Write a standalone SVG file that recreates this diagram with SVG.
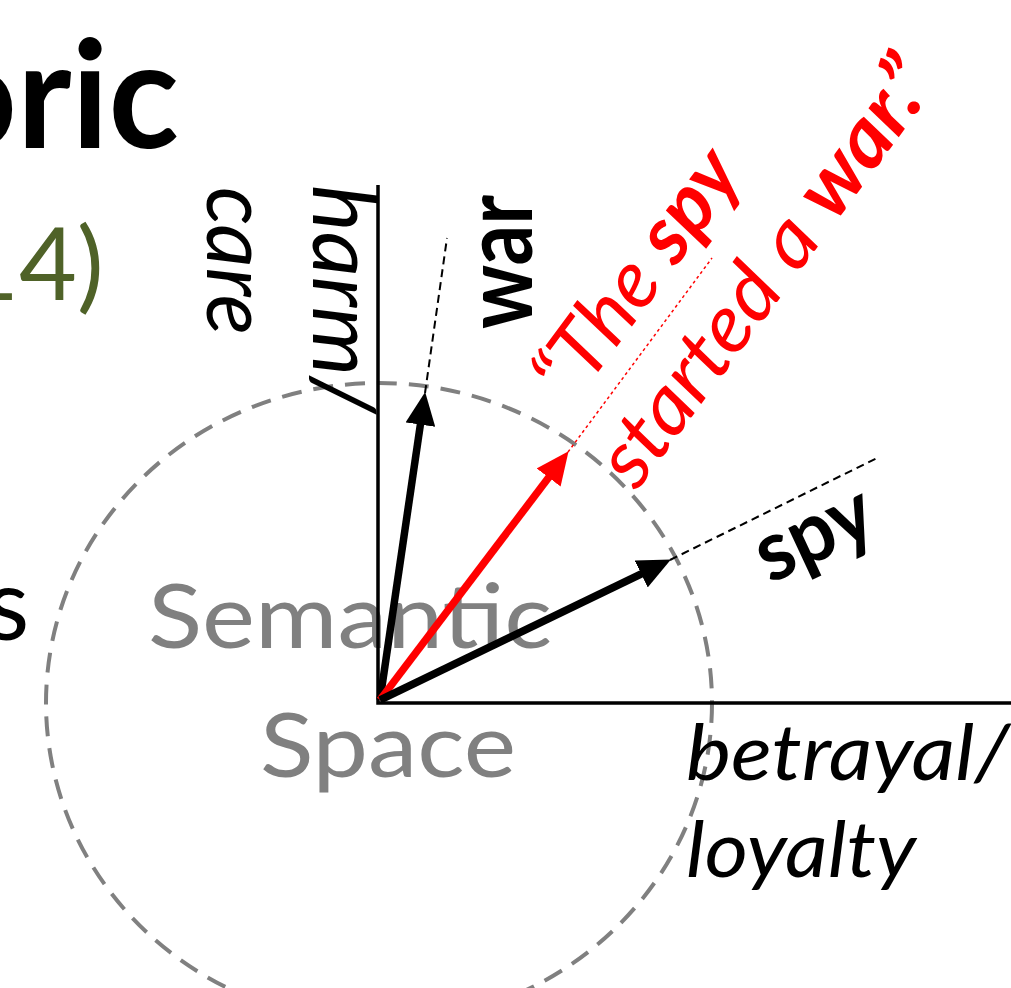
<svg xmlns="http://www.w3.org/2000/svg" width="1011" height="988" viewBox="0 0 1011 988">
<style>
text{font-family:Lato,"Liberation Sans",sans-serif;}
.it{font-style:italic;}
.b{font-weight:bold;}
.ax{stroke:#000;stroke-width:3.5;fill:none;}
.vec{stroke-width:7.5;fill:none;}
.ext{stroke:#000;stroke-width:2;stroke-dasharray:8,5;fill:none;}
</style>
<defs>
<marker id="ahB" markerUnits="userSpaceOnUse" viewBox="0 0 33 30" refX="16" refY="15" markerWidth="33" markerHeight="30" orient="auto"><path d="M0,0 L33,15 L0,30 z" fill="#000"/></marker>
<marker id="ahR" markerUnits="userSpaceOnUse" viewBox="0 0 33 30" refX="16" refY="15" markerWidth="33" markerHeight="30" orient="auto"><path d="M0,0 L33,15 L0,30 z" fill="#f00"/></marker>
</defs>
<rect width="1011" height="988" fill="#fff"/>
<g id="title">
<text x="-67" y="148" font-size="150" class="b" fill="#000" textLength="246" lengthAdjust="spacingAndGlyphs">oric</text>
<text x="-39" y="300" font-size="100" fill="#4F6228">14)</text>
<text x="-14" y="640" font-size="100" fill="#000">s</text>
</g>
<g id="space">
<ellipse cx="379" cy="703" rx="333" ry="320" fill="none" stroke="#808080" stroke-width="4" stroke-dasharray="20,12"/>
<text x="148" y="648" font-size="90" fill="#808080" textLength="404" lengthAdjust="spacingAndGlyphs">Semantic</text>
<text x="260" y="777" font-size="90" fill="#808080" textLength="256" lengthAdjust="spacingAndGlyphs">Space</text>
</g>
<g id="axes">
<path class="ax" d="M378,185 V703 H1011"/>
<text class="it" font-size="88" fill="#000" transform="translate(313,185) rotate(90)" textLength="228" lengthAdjust="spacingAndGlyphs">harm/</text>
<text class="it" font-size="88" fill="#000" transform="translate(207,187) rotate(90)" textLength="148" lengthAdjust="spacingAndGlyphs">care</text>
<text class="it" x="686" y="780" font-size="77" fill="#000" textLength="324" lengthAdjust="spacingAndGlyphs">betrayal/</text>
<text class="it" x="686" y="877" font-size="77" fill="#000" textLength="230" lengthAdjust="spacingAndGlyphs">loyalty</text>
</g>
<g id="connectors">
<line class="ext" x1="425" y1="393" x2="447" y2="238"/>
<line x1="568" y1="452" x2="712" y2="258" stroke="#f00" stroke-width="1.5" stroke-dasharray="3,3"/>
<line class="ext" x1="670" y1="560" x2="877" y2="458"/>
<line class="vec" stroke="#000" x1="380" y1="700" x2="422.7" y2="408.8" marker-end="url(#ahB)"/>
<line class="vec" stroke="#f00" x1="380" y1="700" x2="558.3" y2="464.8" marker-end="url(#ahR)"/>
<line class="vec" stroke="#000" x1="380" y1="700" x2="655.6" y2="567" marker-end="url(#ahB)"/>
</g>
<g id="war">
<text class="b" font-size="96" fill="#000" transform="translate(532,329) rotate(-90)" textLength="134" lengthAdjust="spacingAndGlyphs">war</text>
</g>
<g id="spy">
<text class="b" font-size="84" fill="#000" transform="translate(770,584) rotate(-25)" textLength="122" lengthAdjust="spacingAndGlyphs">spy</text>
</g>
<g id="sentence" transform="translate(916,114) rotate(-53.5)" fill="#f00">
<text class="it" x="-440" y="-102" font-size="81" textLength="290" lengthAdjust="spacingAndGlyphs">“The <tspan class="b">spy</tspan></text>
<text class="it" x="-470" y="0" font-size="81" textLength="508" lengthAdjust="spacingAndGlyphs">started a <tspan class="b">war.”</tspan></text>
</g>
</svg>
